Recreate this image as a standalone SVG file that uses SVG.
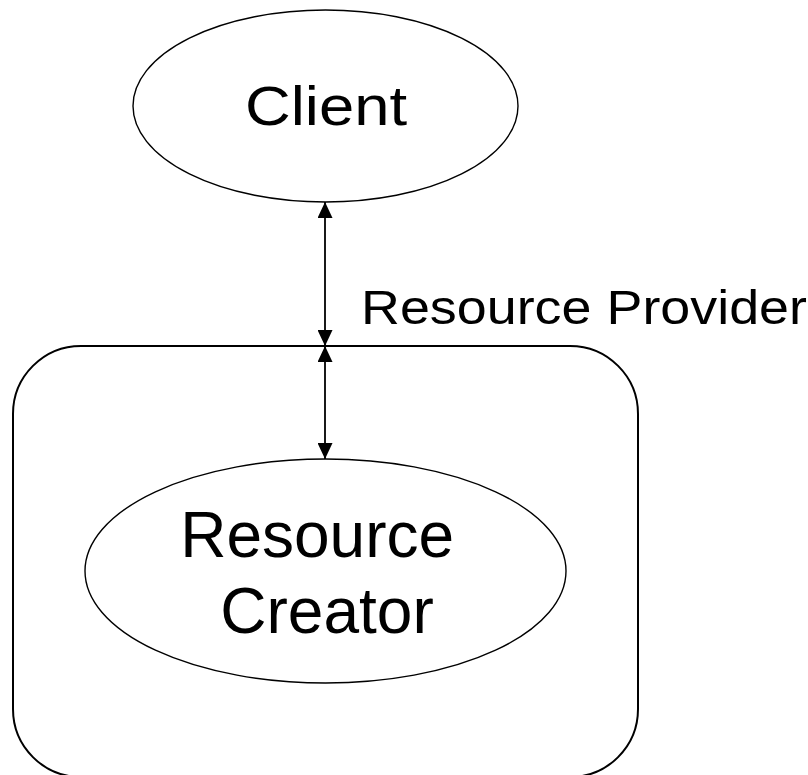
<svg xmlns="http://www.w3.org/2000/svg" width="808" height="775" viewBox="0 0 808 775">
  <style>
    .shape { fill: #ffffff; stroke: #000000; }
    .label { font-family: "Liberation Sans", Arial, sans-serif; fill: #000000; }
    .link { stroke: #000000; stroke-width: 1.8; fill: none; }
  </style>
  <defs>
    <marker id="arrow" viewBox="0 0 16 15" refX="16" refY="7.5" markerWidth="16" markerHeight="15" markerUnits="userSpaceOnUse" orient="auto-start-reverse">
      <path d="M0,0 L16,7.5 L0,15 z" fill="#000000"/>
    </marker>
  </defs>
  <rect width="808" height="775" fill="#ffffff"/>

  <!-- Resource Provider container -->
  <g id="provider">
    <rect class="shape" x="13" y="346" width="625" height="431" rx="68" ry="68" stroke-width="2"/>
    <text class="label" x="361" y="324" font-size="49" textLength="446" lengthAdjust="spacingAndGlyphs">Resource Provider</text>
  </g>

  <!-- Client -->
  <g id="client">
    <ellipse class="shape" cx="325.5" cy="106" rx="192.5" ry="96" stroke-width="1.4"/>
    <text class="label" x="326" y="125" font-size="56" text-anchor="middle" textLength="162" lengthAdjust="spacingAndGlyphs">Client</text>
  </g>

  <!-- Resource Creator -->
  <g id="creator">
    <ellipse class="shape" cx="325.5" cy="571" rx="240.5" ry="112" stroke-width="1.4"/>
    <text class="label" font-size="64" text-anchor="middle">
      <tspan x="326" y="557">Resource</tspan>
      <tspan x="327" y="633">Creator</tspan>
    </text>
  </g>

  <!-- Connectors -->
  <g id="connectors">
    <line class="link" x1="325" y1="202" x2="325" y2="346" marker-start="url(#arrow)" marker-end="url(#arrow)"/>
    <line class="link" x1="325" y1="346" x2="325" y2="459" marker-start="url(#arrow)" marker-end="url(#arrow)"/>
  </g>
</svg>
